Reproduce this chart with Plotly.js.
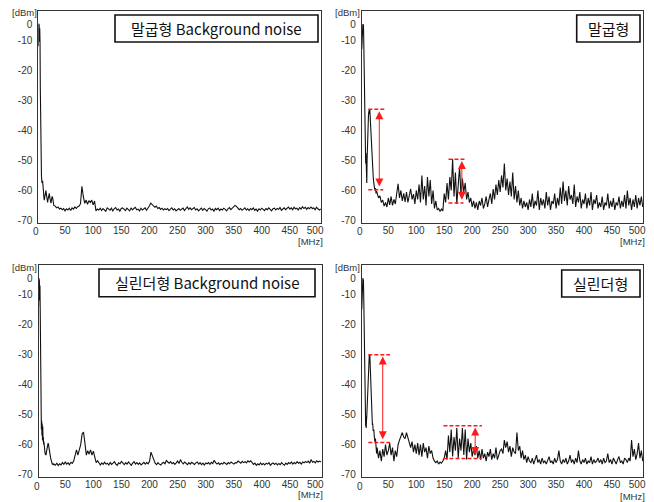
<!DOCTYPE html>
<html><head><meta charset="utf-8">
<script src="https://cdn.plot.ly/plotly-3.0.1.min.js"></script>
<style>html,body{margin:0;padding:0;background:#fff}#chart{width:654px;height:502px}</style>
</head><body><div id="chart"></div>
<script>
// ---------- DATA ----------
// low-frequency part (MHz), shared by all four spectra
const headFreq = [2.5,3,3.5,4,4.5,5,5.5,6,6.5,7, 7.5,8,8.5,9,9.5,10,10.5,11,11.5,12,
  12.5,13,13.5,14,14.5,15,15.5,16,16.5,17, 17.5,18,18.5,19,19.5,20,20.5,21,21.5,22,
  23,24,25,26,27,28,29];
// rest of the sweep: 30 MHz .. 505 MHz, every 2.5 MHz
const tailStartMHz = 30, tailStepMHz = 2.5;

// 말굽형 Background noise [dBm]
const hsBgHead = [-12,-4.5,-9,-5,-10.5,-6,-11,-26,-40,-51.5,
  -53,-55,-56.5,-57.5,-57,-56.8,-57.5,-58.5,-60,-61.5,
  -62.5,-63.2,-62.8,-62,-61,-60.5,-60.2,-60,-60.8,-61.5,
  -62.5,-63.5,-64,-64,-63.2,-62.5,-61.8,-61.2,-61,-61,
  -62.5,-64,-64.2,-63,-62,-62.5,-64.5];
const hsBgTail = [-65.0,-65.2,-65.8,-65.5,-66.2,-65.9,-66.4,-66.0,-66.8,-66.1,
 -66.5,-65.9,-66.7,-65.8,-66.2,-65.5,-66.0,-65.4,-65.2,-64.4,
 -58.6,-62.0,-64.3,-63.2,-64.6,-63.4,-64.0,-63.2,-64.8,-63.5,
 -66.8,-66.2,-66.5,-65.9,-66.7,-66.0,-66.4,-66.9,-65.8,-66.3,
 -66.6,-65.9,-66.8,-66.1,-65.7,-66.5,-66.2,-66.9,-66.0,-65.8,
 -66.4,-66.7,-65.9,-66.3,-66.8,-65.8,-66.5,-66.0,-65.6,-66.4,
 -66.2,-66.8,-65.9,-66.5,-66.1,-65.8,-66.6,-66.0,-65.2,-64.2,
 -64.8,-65.0,-65.6,-65.2,-66.0,-65.7,-66.3,-65.9,-66.5,-66.1,
 -66.4,-66.0,-66.7,-66.2,-65.8,-66.5,-66.1,-66.8,-66.3,-66.0,
 -66.6,-66.2,-65.9,-66.7,-66.1,-65.5,-66.3,-65.8,-66.4,-66.0,
 -65.7,-66.5,-66.1,-66.8,-66.2,-65.9,-66.6,-66.0,-66.4,-66.9,
 -66.1,-65.8,-66.5,-66.2,-66.9,-66.0,-66.4,-65.9,-66.7,-66.2,
 -66.5,-65.9,-66.3,-66.8,-66.1,-65.7,-66.4,-66.0,-65.6,-65.0,
 -65.3,-65.9,-66.4,-66.0,-66.6,-66.2,-65.8,-66.5,-66.1,-66.7,
 -66.0,-66.4,-65.8,-66.6,-66.2,-66.9,-66.1,-66.5,-65.9,-66.3,
 -66.7,-66.0,-66.4,-65.8,-66.2,-66.8,-66.1,-65.9,-66.5,-66.0,
 -66.3,-65.7,-66.6,-66.1,-65.8,-66.4,-66.0,-65.5,-66.2,-65.8,
 -66.4,-65.6,-66.1,-65.9,-66.5,-65.7,-66.2,-65.4,-66.0,-65.6,
 -66.3,-65.7,-66.1,-65.5,-66.0,-65.8,-66.4,-65.6,-66.1,-66.5,
 -66.2];

// 말굽형 [dBm]
const hsHead = [-13,-8,-12.5,-7,-4.6,-5.5,-4.8,-9,-16,-28,
  -38,-44,-49,-45,-51,-47.5,-53.5,-49,-57.5,-50,
  -45,-41.5,-38.5,-36,-35,-34,-33.5,-33,-34.5,-33.2,
  -35,-37,-39.5,-41.5,-43,-44.5,-47,-49.5,-51.5,-53,
  -55.5,-57.5,-58.5,-60,-59.2,-61,-60.2];
const hsTail = [-61.0,-62.5,-61.8,-64.0,-63.2,-65.2,-64.0,-65.5,-62.5,-64.8,
 -62.0,-65.0,-63.0,-64.5,-61.0,-57.8,-62.5,-60.0,-63.5,-61.0,
 -63.8,-60.5,-64.0,-61.5,-59.5,-63.0,-61.2,-64.5,-60.0,-63.0,
 -58.0,-64.0,-55.0,-63.0,-58.5,-65.0,-55.5,-62.0,-56.5,-64.5,
 -60.0,-66.0,-63.5,-66.5,-66.0,-67.0,-66.2,-66.8,-61.0,-64.0,
 -57.5,-63.0,-55.5,-60.0,-49.5,-62.0,-54.0,-64.5,-56.0,-52.0,
 -62.0,-56.0,-60.5,-57.5,-63.0,-60.5,-64.0,-62.5,-65.5,-63.5,
 -66.0,-64.0,-66.5,-63.5,-65.0,-62.5,-66.0,-64.5,-62.0,-65.5,
 -63.0,-61.0,-64.5,-59.5,-63.0,-58.0,-61.5,-56.5,-60.5,-55.0,
 -59.0,-51.0,-60.0,-56.0,-61.5,-57.0,-62.0,-54.0,-63.0,-58.5,
 -64.0,-60.0,-65.0,-62.5,-66.0,-63.5,-65.5,-64.0,-66.5,-63.0,
 -65.5,-61.0,-66.0,-63.5,-65.0,-60.0,-66.5,-62.5,-65.0,-63.0,
 -66.0,-60.5,-65.0,-62.0,-66.5,-63.5,-64.5,-61.0,-66.0,-62.5,
 -65.0,-59.0,-64.5,-57.0,-63.5,-60.0,-65.0,-58.5,-63.0,-61.5,
 -64.5,-58.0,-65.5,-62.0,-64.0,-60.5,-66.0,-63.0,-64.5,-61.0,
 -66.0,-62.5,-65.0,-60.5,-66.5,-63.0,-64.5,-61.5,-66.0,-64.0,
 -65.5,-62.0,-66.5,-64.0,-65.0,-61.0,-66.0,-63.5,-65.5,-62.5,
 -66.5,-64.0,-65.0,-62.0,-66.0,-63.5,-65.5,-61.5,-66.0,-60.0,
 -65.0,-62.5,-66.5,-63.0,-65.5,-61.5,-66.0,-62.5,-65.0,-62.0,
 -65.5];

// 실린더형 Background noise [dBm]
const cyBgHead = [-14,-4.6,-9,-5.5,-12,-7,-16,-30,-42,-49.5,
  -55,-52,-57,-53,-58.5,-54,-59,-57.5,-60,-59,
  -61,-61.5,-62.5,-62.8,-63.2,-63.2,-63.5,-63.3,-62.5,-62,
  -61,-60.5,-59.8,-59.6,-59.5,-59.8,-60.5,-61.5,-62.3,-63,
  -63.6,-64.5,-65.2,-66,-66.6,-66.3,-66.8];
const cyBgTail = [-66.5,-66.9,-66.2,-67.0,-66.4,-66.8,-66.0,-66.6,-65.8,-66.5,
 -66.1,-66.7,-65.9,-66.3,-65.5,-64.0,-61.8,-63.5,-62.0,-60.0,
 -56.5,-55.8,-59.5,-63.5,-62.0,-63.2,-61.8,-63.5,-62.2,-64.5,
 -66.0,-65.4,-66.3,-66.8,-66.1,-66.6,-65.9,-66.5,-66.2,-66.8,
 -66.0,-66.6,-66.2,-65.7,-66.5,-66.9,-66.1,-66.4,-65.6,-66.3,
 -66.7,-66.0,-66.5,-65.8,-66.4,-66.9,-66.2,-65.7,-66.5,-66.0,
 -66.6,-66.1,-66.8,-66.3,-65.9,-66.5,-66.0,-66.4,-65.6,-62.5,
 -63.8,-65.4,-66.2,-66.7,-66.0,-66.5,-66.8,-66.2,-65.9,-66.4,
 -65.3,-65.8,-66.2,-65.7,-66.4,-66.0,-66.6,-66.1,-65.5,-66.3,
 -65.0,-65.9,-66.4,-65.8,-66.2,-66.7,-66.0,-66.5,-65.9,-66.3,
 -66.6,-66.1,-65.8,-66.5,-66.0,-66.7,-66.2,-66.8,-66.1,-66.4,
 -66.0,-66.6,-65.9,-66.3,-65.2,-66.0,-66.5,-66.1,-66.7,-66.2,
 -66.5,-65.9,-66.3,-66.6,-66.0,-66.4,-65.8,-66.2,-66.5,-66.0,
 -66.1,-65.5,-65.9,-66.2,-65.6,-66.0,-65.7,-66.1,-65.4,-65.8,
 -65.4,-65.9,-66.6,-66.2,-66.9,-66.4,-66.8,-66.1,-66.7,-66.3,
 -66.8,-66.2,-66.5,-66.0,-66.9,-66.4,-66.1,-66.6,-66.2,-66.8,
 -66.3,-66.7,-66.0,-66.5,-66.9,-66.2,-66.6,-66.0,-66.4,-65.8,
 -66.5,-66.0,-66.4,-65.7,-66.2,-65.9,-66.5,-65.8,-66.1,-65.6,
 -66.0,-65.5,-66.2,-65.0,-65.9,-65.6,-66.1,-65.4,-65.8,-65.5,
 -65.8];

// 실린더형 [dBm]
const cyHead = [-15,-9.5,-14,-8,-4.5,-6,-5,-10,-18,-28.5,
  -40,-48.5,-52.5,-49.5,-54,-50.5,-54.5,-52,-50.5,-48,
  -45,-42,-39,-36,-33.5,-31.5,-30.5,-30,-31.5,-30.2,
  -33,-36,-39.5,-42.5,-45.5,-47.5,-50,-52,-53.5,-53,
  -55.5,-55,-57.5,-59,-58,-61.5,-63];
const cyTail = [-61.0,-64.5,-62.0,-65.5,-61.5,-64.0,-60.0,-63.5,-62.0,-59.5,
 -63.5,-61.0,-65.5,-62.0,-64.0,-60.0,-58.5,-57.0,-56.0,-57.5,
 -58.0,-56.0,-57.5,-59.5,-61.0,-59.0,-62.5,-60.0,-63.0,-59.5,
 -63.5,-60.0,-64.0,-59.5,-62.5,-61.0,-64.5,-60.5,-63.0,-62.0,
 -64.5,-65.5,-66.0,-65.5,-66.5,-65.8,-66.2,-65.5,-64.5,-62.0,
 -65.0,-57.0,-62.5,-55.0,-64.0,-57.5,-62.0,-54.5,-64.5,-58.0,
 -62.0,-54.5,-63.5,-55.0,-65.0,-58.0,-62.5,-59.5,-64.0,-61.5,
 -63.5,-60.5,-64.5,-62.0,-65.0,-61.5,-64.5,-63.0,-65.5,-62.5,
 -64.0,-61.5,-65.0,-63.0,-64.5,-61.0,-65.0,-63.5,-62.0,-61.5,
 -63.0,-58.5,-61.0,-59.0,-62.5,-60.5,-64.0,-61.0,-62.5,-63.0,
 -56.0,-62.0,-60.5,-64.5,-62.0,-65.0,-63.5,-66.0,-64.0,-65.5,
 -66.0,-64.5,-66.5,-65.0,-63.5,-66.0,-65.0,-66.5,-64.5,-66.0,
 -65.5,-66.5,-65.0,-64.0,-66.0,-65.5,-66.5,-64.5,-66.0,-65.0,
 -62.0,-65.5,-66.5,-65.0,-66.0,-64.5,-66.5,-65.5,-63.5,-66.0,
 -65.0,-66.5,-64.5,-66.0,-62.0,-65.5,-66.5,-65.0,-66.0,-64.5,
 -66.5,-65.5,-66.0,-64.0,-66.5,-65.0,-66.0,-65.5,-64.5,-66.0,
 -65.0,-66.5,-64.5,-66.0,-65.5,-63.0,-66.0,-65.0,-66.5,-64.5,
 -65.5,-66.5,-65.0,-64.0,-66.0,-65.5,-66.5,-64.5,-65.0,-66.0,
 -64.5,-65.5,-58.5,-64.0,-61.5,-65.0,-63.0,-59.5,-64.5,-62.0,
 -65.5];

const panelTitles = ['말굽형 Background noise', '말굽형', '실린더형 Background noise', '실린더형'];
const yTickVals = [-70,-60,-50,-40,-30,-20,-10,-4.6];
const yTickText = ['-70','-60','-50','-40','-30','-20','-10','0'];
const xTickVals = [50,100,150,200,250,300,350,400,450,495];
const xTickText = ['50','100','150','200','250','300','350','400','450','500'];
const xZeroText = '0';
const yUnit = '[dBm]', xUnit = '[MHz]';

// red level-difference markers
const hsMarkArrow = [33.9, 181.5];
const hsMarkStart = [14.2, 157.6];
const hsMarkTopEnd = [44, 187.4];
const hsMarkBotEnd = [41, 184.5];
const hsMarkTop = [-33.0, -49.6];
const hsMarkBot = [-59.8, -64.2];
const cyMarkArrow = [40, 205.3];
const cyMarkStart = [14.2, 148.6];
const cyMarkTopEnd = [53, 217.4];
const cyMarkBotEnd = [53, 217.4];
const cyMarkTop = [-30.1, -53.7];
const cyMarkBot = [-59.3, -64.6];

// ---------- BUILD ----------
function freqs(tail){
  const f = headFreq.slice();
  for (let i = 0; i < tail.length; i++) f.push(tailStartMHz + tailStepMHz * i);
  return f;
}
const W = 654, H = 502;
const px = v => v / W, py = v => 1 - v / H;

const series = [hsBgHead.concat(hsBgTail), hsHead.concat(hsTail), cyBgHead.concat(cyBgTail), cyHead.concat(cyTail)];
const tails = [hsBgTail, hsTail, cyBgTail, cyTail];
const traces = series.map((s, i) => ({
  type: 'scatter', mode: 'lines', x: freqs(tails[i]), y: s,
  xaxis: i === 0 ? 'x' : 'x' + (i + 1), yaxis: i === 0 ? 'y' : 'y' + (i + 1),
  line: {color: '#111', width: 1.1}, hoverinfo: 'skip', showlegend: false
}));

const tickFont = {family: 'Liberation Sans, Arial, sans-serif', size: 10, color: '#333'};
const xDom = [[38.3, 321.3], [361.7, 643.3], [38.5, 321.5], [361.7, 643.3]];
const yDom = [[10.8, 222.6], [10.8, 222.6], [265, 476.7], [265, 476.7]];
const xRange = [2.4, 506];

const layout = {
  width: W, height: H, margin: {l: 0, r: 0, t: 0, b: 0},
  paper_bgcolor: '#fff', plot_bgcolor: '#fff', showlegend: false,
  shapes: [], annotations: []
};
for (let i = 0; i < 4; i++) {
  const sfx = i === 0 ? '' : String(i + 1);
  layout['xaxis' + sfx] = {
    domain: [px(xDom[i][0]), px(xDom[i][1])], range: xRange, anchor: 'y' + sfx,
    tickvals: xTickVals, ticktext: xTickText, tickfont: tickFont, ticks: '',
    ticklabelstandoff: -2, showgrid: false, zeroline: false,
    showline: true, mirror: true, linecolor: '#333', linewidth: 1, fixedrange: true
  };
  layout['yaxis' + sfx] = {
    domain: [py(yDom[i][1]), py(yDom[i][0])], range: [-70.7, -0.2], anchor: 'x' + sfx,
    tickvals: yTickVals, ticktext: yTickText, tickfont: tickFont, ticks: '',
    ticklabelstandoff: 3, showgrid: false, zeroline: false,
    showline: true, mirror: true, linecolor: '#333', linewidth: 1, fixedrange: true
  };
  // "0" MHz label (just left of the frame) and unit labels
  const pxPerMHz = (xDom[i][1] - xDom[i][0]) / (xRange[1] - xRange[0]);
  const zeroX = xDom[i][0] - xRange[0] * pxPerMHz;
  const labY = i < 2 ? 231 : 486;
  layout.annotations.push({xref: 'paper', yref: 'paper', x: px(zeroX - 0.5), y: py(labY), text: xZeroText, showarrow: false,
    font: tickFont, xanchor: 'center', yanchor: 'middle'});
  layout.annotations.push({xref: 'paper', yref: 'paper', x: px(xDom[i][0] - 14), y: py(yDom[i][0] + 2),
    text: yUnit, showarrow: false, font: {family: tickFont.family, size: 9.5, color: '#333'}, xanchor: 'center', yanchor: 'middle'});
  const mhzY = [241.7, 241.7, 494.5, 496.5][i];
  layout.annotations.push({xref: 'paper', yref: 'paper', x: px(xDom[i][1] - 11), y: py(mhzY),
    text: xUnit, showarrow: false, font: {family: tickFont.family, size: 9.5, color: '#333'}, xanchor: 'center', yanchor: 'middle'});
}

// title boxes
const boxes = [[115, 15, 318, 42], [576.7, 15, 640, 42], [99, 269, 315, 296.7], [561.7, 270, 640, 297]];
boxes.forEach((b, i) => {
  layout.shapes.push({type: 'rect', xref: 'paper', yref: 'paper', x0: px(b[0]), x1: px(b[2]), y0: py(b[3]), y1: py(b[1]),
    line: {color: '#111', width: 1.6}, fillcolor: '#fff', layer: 'above'});
  layout.annotations.push({xref: 'paper', yref: 'paper', x: px((b[0] + b[2]) / 2), y: py((b[1] + b[3]) / 2),
    text: panelTitles[i], showarrow: false, xanchor: 'center', yanchor: 'middle',
    font: {family: 'Noto Sans CJK KR, sans-serif', size: 15, color: '#111'}});
});

// red markers
function addMarks(sfx, arrow, start, topEnd, botEnd, top, bot) {
  for (let k = 0; k < arrow.length; k++) {
    const xr = 'x' + sfx, yr = 'y' + sfx;
    layout.shapes.push({type: 'line', xref: xr, yref: yr, x0: start[k], x1: topEnd[k], y0: top[k], y1: top[k],
      line: {color: '#ff1a1a', width: 1.5, dash: '4px,2px'}});
    layout.shapes.push({type: 'line', xref: xr, yref: yr, x0: start[k], x1: botEnd[k], y0: bot[k], y1: bot[k],
      line: {color: '#ff1a1a', width: 1.5, dash: '4px,2px'}});
    layout.annotations.push({xref: xr, yref: yr, axref: xr, ayref: yr, x: arrow[k], y: top[k] - 0.6, ax: arrow[k], ay: bot[k] + 0.6,
      text: '', showarrow: true, arrowside: 'end+start', arrowhead: 2, arrowsize: 1.6, arrowwidth: 1,
      arrowcolor: '#ff1a1a', standoff: 0, startstandoff: 0});
  }
}
addMarks('2', hsMarkArrow, hsMarkStart, hsMarkTopEnd, hsMarkBotEnd, hsMarkTop, hsMarkBot);
addMarks('4', cyMarkArrow, cyMarkStart, cyMarkTopEnd, cyMarkBotEnd, cyMarkTop, cyMarkBot);

Plotly.newPlot('chart', traces, layout, {staticPlot: true, displayModeBar: false});
</script></body></html>
